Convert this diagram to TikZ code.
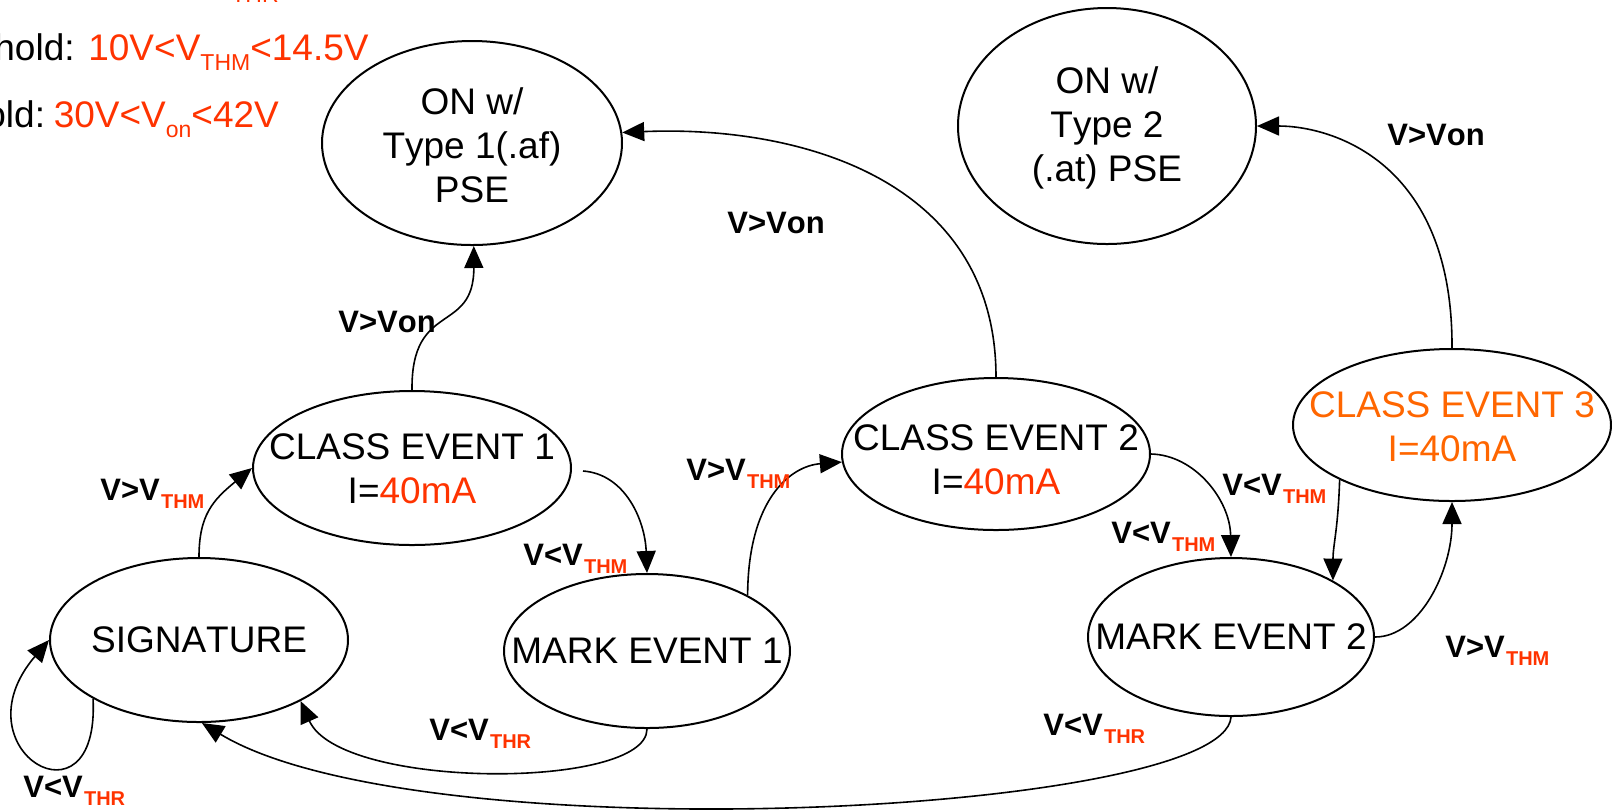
\documentclass[tikz,border=0pt]{standalone}
\usepackage{fontspec}
\setmainfont{Liberation Sans}[Kerning=Off]
\usetikzlibrary{arrows.meta,shapes.geometric}
\definecolor{tred}{RGB}{255,51,0}
\definecolor{torange}{RGB}{255,102,0}
\newcommand{\lsub}[1]{\kern0.6pt\raisebox{-4pt}{\fontsize{10}{12}\selectfont\bfseries\color{tred}#1}}
\newcommand{\msub}[1]{\raisebox{-5pt}{\fontsize{11.5}{13}\selectfont #1}}
\begin{document}
\begin{tikzpicture}[x=0.5pt,y=0.5pt,
  state/.style={draw, ellipse, line width=1pt, inner sep=0pt},
  stext/.style={inner sep=0pt, align=center, font=\fontsize{18.5}{22}\selectfont},
  lbl/.style={inner sep=0pt, anchor=base west, font=\fontsize{15.5}{18}\selectfont\bfseries},
  conn/.style={line width=0.8pt, -{Triangle[length=11pt,width=9.5pt]}},
  toptext/.style={inner sep=0pt, anchor=base west, font=\fontsize{18.5}{22}\selectfont}]
\path[fill=white,use as bounding box] (0,0) rectangle (1612,-811);

% top-left text (partly cut off)
\node[toptext,text=tred,font=\fontsize{11.5}{13}\selectfont] (t0) at (231,-2.5) {THR};
\node[toptext] (t1) at (-6,-60) {hold: \textcolor{tred}{10V<V\msub{THM}<14.5V}};
\node[toptext] (t2) at (-15,-127) {old:\hspace{-2.5pt} \textcolor{tred}{30V<V\msub{on}<42V}};

% states
\node[state, minimum width=150pt, minimum height=102pt] (on1) at (472,-143) {};
\node[state, minimum width=149pt, minimum height=118pt] (on2) at (1107,-126) {};
\node[state, minimum width=149pt, minimum height=82pt] (sig) at (199,-640) {};
\node[state, minimum width=159pt, minimum height=77pt] (ce1) at (412,-468) {};
\node[state, minimum width=143pt, minimum height=77pt] (me1) at (647,-651) {};
\node[state, minimum width=154pt, minimum height=76pt] (ce2) at (996,-454) {};
\node[state, minimum width=143pt, minimum height=79pt] (me2) at (1231,-637) {};
\node[state, minimum width=159pt, minimum height=76pt] (ce3) at (1452,-425) {};

% state texts
\node[stext] (on1t) at (472,-145) {ON w/\\Type 1(.af)\\PSE};
\node[stext] (on2t) at (1107,-128) {ON w/\\Type 2\\(.at) PSE};
\node[stext] (sigt) at (199,-640) {SIGNATURE};
\node[stext] (ce1t) at (412,-469) {CLASS EVENT 1\\I=\textcolor{tred}{40mA}};
\node[stext] (me1t) at (647,-651) {MARK EVENT 1};
\node[stext] (ce2t) at (996,-460) {CLASS EVENT 2\\I=\textcolor{tred}{40mA}};
\node[stext] (me2t) at (1231,-637) {MARK EVENT 2};
\node[stext, text=torange] (ce3t) at (1452,-427) {CLASS EVENT 3\\I=40mA};

% transitions
\draw[conn] (sig.209) .. controls (100,-835) and (-45,-750) .. (sig.west);
\draw[conn] (sig.north) .. controls (199,-515) and (213,-500) .. (ce1.west);
\draw[conn] (ce1.north) .. controls (411,-300) and (474,-335) .. (on1.-89);
\draw[conn] ([xshift=5.5pt,yshift=-1.5pt]ce1.east) .. controls (625,-474) and (645,-520) .. (me1.north);
\draw[conn] (me1.29) .. controls (748,-500) and (790,-466) .. (ce2.183);
\draw[conn] (me1.south) .. controls (647,-790) and (340,-790) .. (sig.-31);
\draw[conn] (ce2.north) .. controls (996,-180) and (800,-125) .. (on1.4);
\draw[conn] (ce2.east) .. controls (1195,-455) and (1230,-500) .. (me2.north);
\draw[conn] (ce3.206) .. controls (1338,-530) and (1333,-545) .. (me2.29);
\draw[conn] (me2.east) .. controls (1420,-637) and (1452,-570) .. (ce3.south);
\draw[conn] (ce3.north) .. controls (1453,-160) and (1330,-126) .. (on2.east);
\draw[conn] (me2.south) .. controls (1225,-815) and (420,-855) .. (sig.-88);

% labels
\node[lbl] (l1) at (100,-500) {V>V\lsub{THM}};
\node[lbl] (l2) at (338,-332) {V>Von};
\node[lbl] (l3) at (523,-565) {V<V\lsub{THM}};
\node[lbl] (l4) at (686,-480) {V>V\lsub{THM}};
\node[lbl] (l5) at (429,-740) {V<V\lsub{THR}};
\node[lbl] (l6) at (727,-233) {V>Von};
\node[lbl] (l7) at (1111,-543) {V<V\lsub{THM}};
\node[lbl] (l8) at (1222,-495) {V<V\lsub{THM}};
\node[lbl] (l9) at (1445,-657) {V>V\lsub{THM}};
\node[lbl] (l10) at (1387,-145) {V>Von};
\node[lbl] (l11) at (1043,-735) {V<V\lsub{THR}};
\node[lbl] (l12) at (23,-797) {V<V\lsub{THR}};
\end{tikzpicture}
\end{document}
